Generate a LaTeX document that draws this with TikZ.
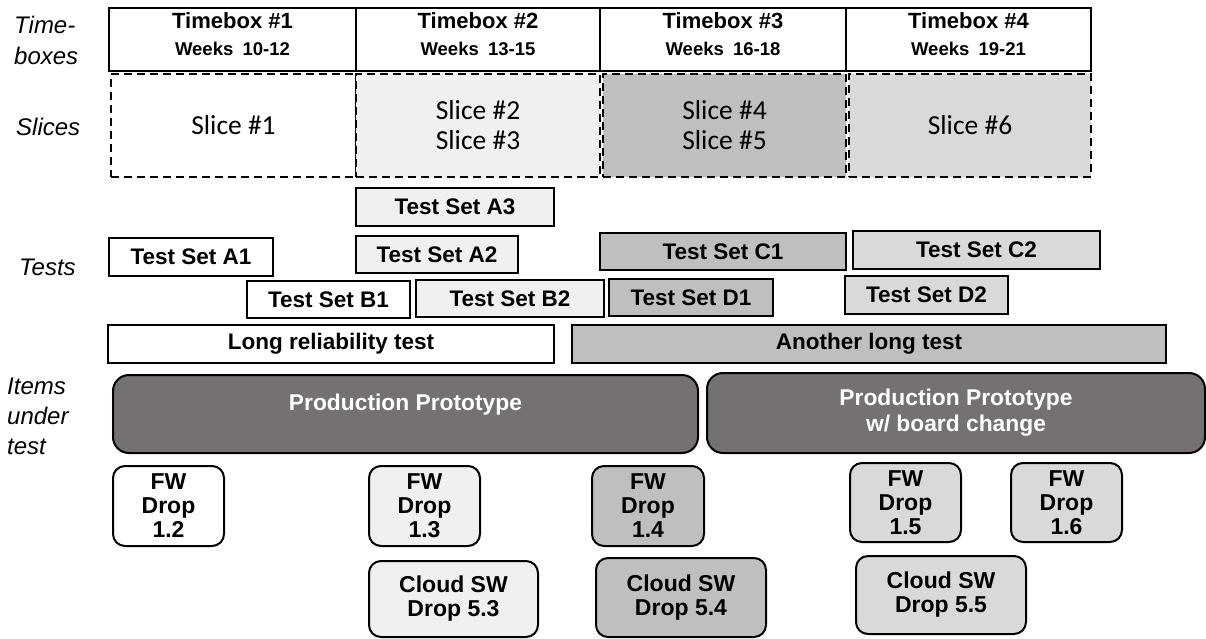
\documentclass[tikz,border=0pt]{standalone}
\usepackage{fontspec}
\setsansfont{Liberation Sans}
\newfontfamily\slicefont{Carlito}
\usepackage{xcolor}
\definecolor{fillLight}{HTML}{F0F0F0}
\definecolor{fillPale}{HTML}{D9D9D9}
\definecolor{fillMid}{HTML}{BFBFBF}
\definecolor{fillDark}{HTML}{767171}

\begin{document}
\begin{tikzpicture}[x=1pt, y=-1pt,
  every node/.style={inner sep=0pt, align=center},
  rowLabel/.style={anchor=west, align=left, font=\sffamily\itshape\fontsize{24}{30}\selectfont},
  timeBox/.style={draw, line width=2.2pt, minimum height=63pt, font=\sffamily\bfseries\fontsize{22}{27}\selectfont},
  sliceBox/.style={draw, dash pattern=on 8pt off 5pt, line width=1.8pt, minimum height=103pt, font=\slicefont\fontsize{27.5}{30}\selectfont},
  testBox/.style={draw, line width=2pt, minimum height=37.5pt, font=\sffamily\bfseries\fontsize{22.5}{25}\selectfont},
  itemBox/.style={draw, line width=2pt, rounded corners=16pt, fill=fillDark, text=white, font=\sffamily\bfseries\fontsize{22.8}{26}\selectfont},
  dropBox/.style={draw, line width=2pt, rounded corners=12pt, font=\sffamily\bfseries\fontsize{23}{24}\selectfont}]
  \useasboundingbox (0,0) rectangle (1206,638);

  % row labels
  \node[rowLabel, font=\sffamily\itshape\fontsize{24}{31}\selectfont] (lblTime) at (14,40) {Time-\\boxes};
  \node[rowLabel] (lblSlices) at (16,127) {Slices};
  \node[rowLabel] (lblTests) at (19,267) {Tests};
  \node[rowLabel] (lblItems) at (7,416) {Items\\under\\test};

  % timeboxes
  \node[timeBox, minimum width=247pt] (tbox1) at (232.5,39.5) {Timebox \#1\\{\fontsize{18.5}{20}\selectfont Weeks\enspace 10-12}\rule[-11pt]{0pt}{11pt}};
  \node[timeBox, minimum width=244pt] (tbox2) at (478,39.5) {Timebox \#2\\{\fontsize{18.5}{20}\selectfont Weeks\enspace 13-15}\rule[-11pt]{0pt}{11pt}};
  \node[timeBox, minimum width=246pt] (tbox3) at (723,39.5) {Timebox \#3\\{\fontsize{18.5}{20}\selectfont Weeks\enspace 16-18}\rule[-11pt]{0pt}{11pt}};
  \node[timeBox, minimum width=245pt] (tbox4) at (968.5,39.5) {Timebox \#4\\{\fontsize{18.5}{20}\selectfont Weeks\enspace 19-21}\rule[-11pt]{0pt}{11pt}};

  % slices
  \node[sliceBox, minimum width=245pt] (slice1) at (233.5,125.5) {Slice \#1};
  \node[sliceBox, fill=fillLight, minimum width=244pt] (slice23) at (478,125.5) {Slice \#2\\Slice \#3};
  \node[sliceBox, fill=fillMid, minimum width=243pt] (slice45) at (724.5,125.5) {Slice \#4\\Slice \#5};
  \node[sliceBox, fill=fillPale, minimum width=242pt] (slice6) at (970,125.5) {Slice \#6};

  % tests
  \node[testBox, fill=fillLight, minimum width=198pt] (setA3) at (455,207) {Test Set A3};
  \node[testBox, minimum width=164pt] (setA1) at (191,257) {Test Set A1};
  \node[testBox, fill=fillLight, minimum width=162pt] (setA2) at (437,254.5) {Test Set A2};
  \node[testBox, fill=fillMid, minimum width=246pt] (setC1) at (723,251.5) {Test Set C1};
  \node[testBox, fill=fillPale, minimum width=247pt] (setC2) at (976.5,250) {Test Set C2};
  \node[testBox, minimum width=163pt] (setB1) at (328.5,299.5) {Test Set B1};
  \node[testBox, fill=fillLight, minimum width=188pt] (setB2) at (510,298.5) {Test Set B2};
  \node[testBox, fill=fillMid, minimum width=164pt] (setD1) at (691,297.5) {Test Set D1};
  \node[testBox, fill=fillPale, minimum width=163pt] (setD2) at (926.5,295) {Test Set D2};
  \node[testBox, minimum width=446pt] (longRel) at (331,344) {Long reliability test};
  \node[testBox, fill=fillMid, minimum width=594pt] (longOther) at (869,344) {Another long test};

  % items under test
  \node[itemBox, minimum width=585pt, minimum height=78pt] (protoA) at (405.5,414) {Production Prototype\rule[-24pt]{0pt}{24pt}};
  \node[itemBox, minimum width=498pt, minimum height=80pt] (protoB) at (956,413) {Production Prototype\\w/ board change};
  \node[dropBox, minimum width=111pt, minimum height=80pt] (fw12) at (168.5,506) {FW\\Drop\\1.2};
  \node[dropBox, fill=fillLight, minimum width=111pt, minimum height=80pt] (fw13) at (424.5,506) {FW\\Drop\\1.3};
  \node[dropBox, fill=fillMid, minimum width=112pt, minimum height=80pt] (fw14) at (648,506) {FW\\Drop\\1.4};
  \node[dropBox, fill=fillPale, minimum width=111pt, minimum height=79pt] (fw15) at (905.5,502.5) {FW\\Drop\\1.5};
  \node[dropBox, fill=fillPale, minimum width=111pt, minimum height=79pt] (fw16) at (1066.5,502.5) {FW\\Drop\\1.6};
  \node[dropBox, fill=fillLight, minimum width=169pt, minimum height=76pt] (cloud53) at (453.5,599) {Cloud SW\\Drop 5.3};
  \node[dropBox, fill=fillMid, minimum width=170pt, minimum height=79pt] (cloud54) at (681,597.5) {Cloud SW\\Drop 5.4};
  \node[dropBox, fill=fillPale, minimum width=170pt, minimum height=78pt] (cloud55) at (941,595) {Cloud SW\\Drop 5.5};
\end{tikzpicture}
\end{document}
